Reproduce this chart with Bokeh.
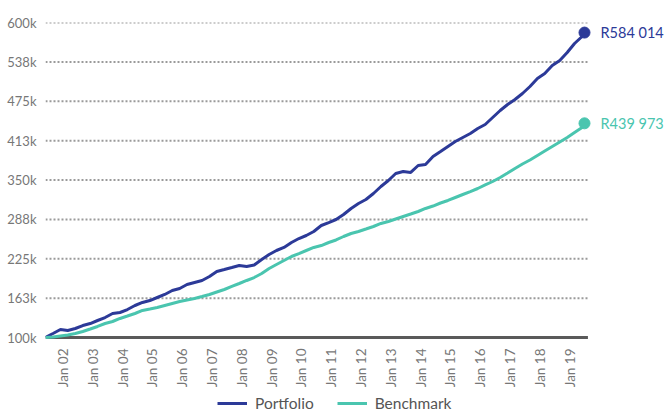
import math
import pandas as pd
from bokeh.plotting import figure
from bokeh.layouts import column
from bokeh.models import (Range1d, FixedTicker, DatetimeTickFormatter, Legend,
                          LegendItem, Label)
from bokeh.embed import file_html
from bokeh.resources import INLINE

# ---- data (values in thousands of rand, quarterly readings) ----
dates = list(pd.date_range("2001-06-01", "2019-06-01", freq="3MS")) + [pd.Timestamp("2019-07-01")]

portfolio_k = [100.0, 106.3, 112.7, 111.1, 114.3, 119.0, 122.2, 127.0, 131.7, 138.1,
               139.7, 144.4, 150.8, 155.6, 158.7, 163.5, 168.3, 174.6, 177.8, 184.1,
               187.3, 190.5, 196.8, 204.8, 207.9, 211.1, 214.3, 212.8, 215.0, 223.8,
               231.7, 238.1, 242.9, 250.8, 257.1, 261.9, 268.3, 277.8, 282.5, 287.3,
               295.2, 304.8, 312.7, 319.0, 328.6, 339.7, 349.2, 360.3, 363.5, 362.0,
               373.0, 374.6, 387.3, 395.2, 403.2, 411.1, 417.5, 423.8, 431.7, 438.1,
               449.2, 460.3, 469.8, 477.8, 487.3, 498.4, 511.1, 519.0, 531.7, 539.7,
               552.4, 566.7, 577.8, 584.014]

benchmark_k = [100.0, 100.8, 102.4, 104.0, 106.3, 109.5, 113.5, 117.5, 122.2, 125.4,
               130.2, 134.1, 138.1, 142.9, 145.2, 147.6, 150.8, 154.0, 157.1, 159.5,
               161.9, 165.1, 168.3, 172.2, 176.2, 181.0, 185.7, 190.5, 195.2, 201.6,
               209.5, 215.9, 222.2, 228.6, 233.3, 238.1, 242.9, 246.0, 250.8, 254.8,
               260.3, 265.1, 268.3, 272.2, 276.2, 281.0, 284.1, 288.1, 292.1, 296.0,
               300.0, 304.8, 308.7, 313.5, 317.5, 322.2, 327.0, 331.7, 336.5, 342.1,
               347.6, 354.0, 361.1, 368.3, 375.4, 381.7, 388.9, 396.0, 403.2, 410.3,
               417.5, 425.4, 433.3, 439.973]

series_names = ["Portfolio", "Benchmark"]
end_labels = ["R584 014", "R439 973"]

y_ticks = [100000, 162500, 225000, 287500, 350000, 412500, 475000, 537500, 600000]
y_tick_labels = ["100k", "163k", "225k", "288k", "350k", "413k", "475k", "538k", "600k"]
x_tick_years = list(range(2002, 2020))

portfolio = [v * 1000 for v in portfolio_k]
benchmark = [v * 1000 for v in benchmark_k]

BLUE = "#2C3A98"
TEAL = "#4AC5AF"
FONT = "Lato"

# ---- layout geometry ----
W, H_MAIN, H_LEG = 664, 391, 21
LEFT, TOP, BOTTOM = 45, 22, 52
x_start = pd.Timestamp("2001-06-01")
grid_end = pd.Timestamp("2019-08-12")          # where the grid / axis line stop
px_per_day = 539 / (dates[-1] - x_start).days  # last point sits 539px right of the frame's left edge
frame_px = W - LEFT                            # frame reaches the right edge (room for end labels)
x_end = x_start + pd.Timedelta(days=frame_px / px_per_day)
frame_h = H_MAIN - TOP - BOTTOM
y_lo = 100000 - (frame_h - 315) * (500000 / 315)   # 100k line sits 2px above frame bottom

p = figure(width=W, height=H_MAIN, x_axis_type="datetime",
           output_backend="svg", toolbar_location=None,
           x_range=Range1d(x_start, x_end),
           y_range=Range1d(y_lo, 600000),
           min_border_left=LEFT, min_border_right=0,
           min_border_top=TOP, min_border_bottom=BOTTOM)
p.outline_line_color = None
p.background_fill_color = "white"
p.border_fill_color = "white"

# grid drawn only over the data area
p.xgrid.grid_line_color = None
p.ygrid.grid_line_color = None
grid_y = y_ticks[1:]
p.segment(x0=[x_start] * len(grid_y), x1=[grid_end] * len(grid_y), y0=grid_y, y1=grid_y,
          line_color="#9a9a9a", line_dash="2 2", line_width=2)
# x axis baseline
p.segment(x0=[x_start], x1=[grid_end], y0=[y_ticks[0]], y1=[y_ticks[0]],
          line_color="#5a5a5a", line_width=3)

# y axis
p.yaxis.ticker = FixedTicker(ticks=y_ticks)
p.yaxis.major_label_overrides = {float(t): l for t, l in zip(y_ticks, y_tick_labels)}
p.yaxis.axis_line_color = None
p.yaxis.major_tick_line_color = None
p.yaxis.minor_tick_line_color = None
p.yaxis.major_label_standoff = 3
p.yaxis.major_label_text_font = FONT
p.yaxis.major_label_text_font_size = "13px"
p.yaxis.major_label_text_color = "#777777"

# x axis
x_ticks = [pd.Timestamp(f"{y}-01-01").value // 10**6 for y in x_tick_years]
p.xaxis.ticker = FixedTicker(ticks=x_ticks)
p.xaxis.formatter = DatetimeTickFormatter(years="%b %y", months="%b %y", days="%b %y",
                                          hours="%b %y", minutes="%b %y")
p.xaxis.major_label_orientation = math.pi / 2
p.xaxis.axis_line_color = None
p.xaxis.major_tick_line_color = None
p.xaxis.minor_tick_line_color = None
p.xaxis.major_label_standoff = 3
p.xaxis.major_label_text_font = FONT
p.xaxis.major_label_text_font_size = "13.5px"
p.xaxis.major_label_text_color = "#777777"

# lines
r1 = p.line(dates, portfolio, line_width=3, line_color=BLUE)
r2 = p.line(dates, benchmark, line_width=3, line_color=TEAL)
p.scatter([dates[-1]], [portfolio[-1]], size=11, color=BLUE)
p.scatter([dates[-1]], [benchmark[-1]], size=11, color=TEAL)

last_ms = dates[-1].value // 10**6
for val, txt, col in [(portfolio[-1], end_labels[0], BLUE), (benchmark[-1], end_labels[1], TEAL)]:
    p.add_layout(Label(x=last_ms, y=val, x_offset=16, text=txt, text_baseline="middle",
                       text_font=FONT, text_font_size="14.5px", text_color=col))

# ---- legend strip below the chart ----
q = figure(width=W, height=H_LEG, output_backend="svg", toolbar_location=None,
           x_range=Range1d(0, 1), y_range=Range1d(0, 1),
           x_axis_location=None, y_axis_location=None, min_border=0)
q.outline_line_color = None
q.xgrid.visible = False
q.ygrid.visible = False
# legend swatches only: these renderers sit outside the visible range
d1 = q.line([-2, -1], [-2, -1], line_width=3, line_color=BLUE)
d2 = q.line([-2, -1], [-2, -1], line_width=3, line_color=TEAL)
legend = Legend(items=[LegendItem(label=series_names[0], renderers=[d1]),
                       LegendItem(label=series_names[1], renderers=[d2])],
                orientation="horizontal", location=(172, 0),
                padding=0, margin=0, spacing=23, label_standoff=8,
                glyph_width=30, glyph_height=18, label_height=18,
                label_text_font=FONT, label_text_font_size="15.5px",
                label_text_color="#555555", border_line_color=None,
                background_fill_alpha=0)
q.add_layout(legend)

layout = column(p, q, spacing=0)
open("out.html", "w").write(file_html(layout, INLINE))
